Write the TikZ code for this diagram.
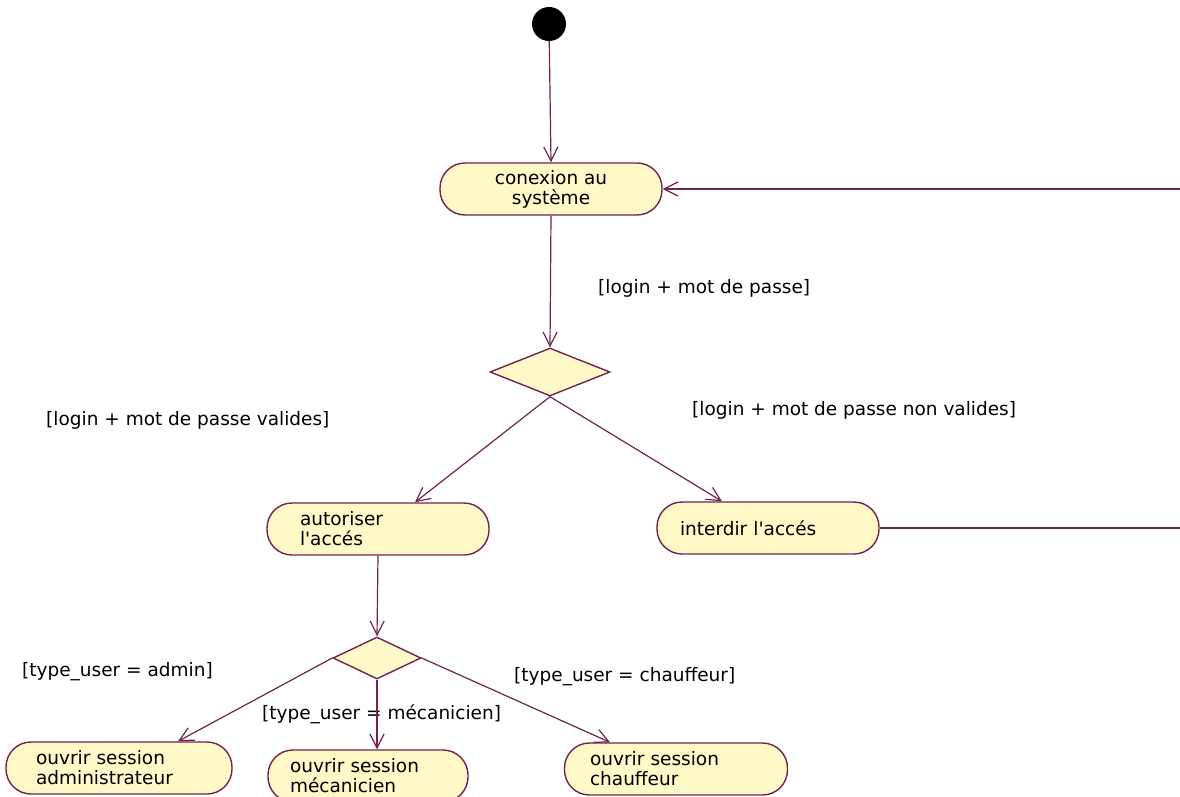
\documentclass[tikz,border=0pt]{standalone}
\usepackage{fontspec}
\setmainfont{DejaVu Sans}
\usepackage{tikz}
\usetikzlibrary{arrows.meta,shapes.geometric}
\definecolor{umlline}{RGB}{112,36,78}
\definecolor{umlfill}{RGB}{255,249,200}
\newcommand{\apos}{\textquotesingle}
\tikzset{
  activity/.style={draw=umlline, fill=umlfill, line width=1.4pt, rounded corners=25pt,
    minimum width=222pt, minimum height=52pt, inner sep=0pt, align=left,
    font=\fontsize{18.5}{20}\selectfont},
  choice/.style={diamond, draw=umlline, fill=umlfill, line width=1.4pt, inner sep=0pt,
    minimum width=120pt, minimum height=48pt},
  flow/.style={draw=umlline, line width=1.2pt, -{Straight Barb[length=14pt,width=14pt]}},
  guard/.style={anchor=west, inner sep=0pt, font=\fontsize{18.5}{20}\selectfont}
}
\begin{document}
\begin{tikzpicture}[x=1pt, y=-1pt]
%%%%% Frame %%%%%
\useasboundingbox (0,0) rectangle (1180,797);
\fill[white] (0,0) rectangle (1180,797);
\clip (0,0) rectangle (1180,797);
%%%%% Nodes %%%%%
\node[circle, fill=black, minimum size=34pt, inner sep=0pt] (start) at (549,24) {};
\node[activity, align=center] (conexion) at (551,189) {conexion au\\syst\`eme};
\node[choice] (check) at (550,372) {};
\node[activity, text width=156pt] (autoriser) at (378,529) {autoriser\\l\apos acc\'es};
\node[activity, text width=176pt] (interdir) at (768,528) {interdir l\apos acc\'es};
\node[choice, minimum width=88pt, minimum height=42pt] (role) at (377,658) {};
\node[activity, minimum width=226pt, text width=166pt] (admin) at (119,768) {ouvrir session\\administrateur};
\node[activity, minimum width=200pt, text width=156pt] (meca) at (368,776) {ouvrir session\\m\'ecanicien};
\node[activity, minimum width=223pt, text width=172pt] (chauf) at (676,769) {ouvrir session\\chauffeur};
\coordinate (corner) at (1195,528);
%%%%% Guards %%%%%
\node[guard] (g1) at (598,288) {[login + mot de passe]};
\node[guard] (g2) at (46,420) {[login + mot de passe valides]};
\node[guard] (g3) at (692,410) {[login + mot de passe non valides]};
\node[guard] (g4) at (22,672) {[type\_user = admin]};
\node[guard] (g5) at (262,714) {[type\_user = m\'ecanicien]};
\node[guard] (g6) at (514,677) {[type\_user = chauffeur]};
%%%%% Transitions %%%%%
\draw[flow] (start) -- (conexion.north);
\draw[flow] (conexion.south) -- (check.north);
\draw[flow] (check.south) -- ([xshift=37pt]autoriser.north);
\draw[flow] (check.south) -- ([xshift=-46pt]interdir.north);
\draw[flow] (interdir.east) -- (corner) |- (conexion.east);
\draw[flow] (autoriser.south) -- (role.north);
\draw[flow] (role.west) -- ([xshift=59pt]admin.north);
\draw[flow] (role.south) -- ([xshift=9pt]meca.north);
\draw[flow] (role.east) -- ([xshift=-66pt]chauf.north);
\end{tikzpicture}
\end{document}
